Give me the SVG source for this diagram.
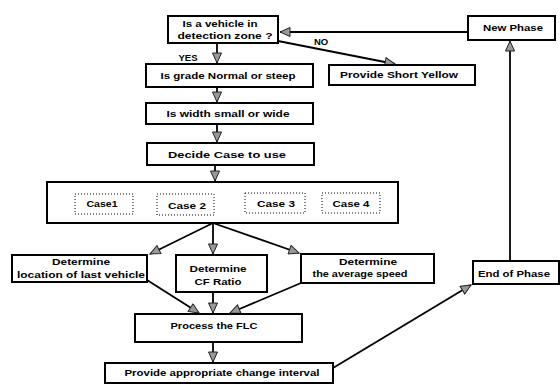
<svg xmlns="http://www.w3.org/2000/svg" width="560" height="385" viewBox="0 0 560 385">
<style>
.box{fill:#fff;stroke:#000;stroke-width:2}
.dot{fill:none;stroke:#000;stroke-width:1;stroke-dasharray:1 2}
.c{fill:none;stroke:#000;stroke-width:1.8}
text{font-family:"Liberation Sans",Arial,sans-serif;font-weight:bold;font-size:9.5px;fill:#000;text-anchor:middle}
</style>
<defs>
<marker id="ah" markerUnits="userSpaceOnUse" markerWidth="12" markerHeight="10" viewBox="0 0 12 10" refX="11" refY="5" orient="auto">
<path d="M1,0.5 L11,5 L1,9.5 Z" fill="#999" stroke="#222" stroke-width="1"/>
</marker>
</defs>
<rect width="560" height="385" fill="#fff"/>
<g id="connectors">
<line class="c" x1="217" y1="43" x2="217" y2="63" marker-end="url(#ah)"/>
<line class="c" x1="217" y1="87" x2="217" y2="102" marker-end="url(#ah)"/>
<line class="c" x1="217" y1="124" x2="217" y2="142" marker-end="url(#ah)"/>
<line class="c" x1="215" y1="165" x2="215" y2="181" marker-end="url(#ah)"/>
<line class="c" x1="468" y1="32" x2="280" y2="32" marker-end="url(#ah)"/>
<line class="c" x1="278" y1="41" x2="395" y2="64" marker-end="url(#ah)"/>
<line class="c" x1="213" y1="223" x2="150" y2="254" marker-end="url(#ah)"/>
<line class="c" x1="213" y1="223" x2="213" y2="254" marker-end="url(#ah)"/>
<line class="c" x1="213" y1="223" x2="299" y2="253" marker-end="url(#ah)"/>
<line class="c" x1="147" y1="280" x2="199" y2="313" marker-end="url(#ah)"/>
<line class="c" x1="213" y1="292" x2="213" y2="313" marker-end="url(#ah)"/>
<line class="c" x1="301" y1="283" x2="230" y2="313" marker-end="url(#ah)"/>
<line class="c" x1="213" y1="342" x2="213" y2="362" marker-end="url(#ah)"/>
<line class="c" x1="333" y1="368" x2="471" y2="285" marker-end="url(#ah)"/>
<line class="c" x1="510" y1="261" x2="510" y2="41" marker-end="url(#ah)"/>
<text x="321" y="45">NO</text>
<text x="188" y="61">YES</text>
</g>
<g id="n-detect">
<rect class="box" x="168" y="16" width="110" height="27"/>
<text x="220" y="27" textLength="75" lengthAdjust="spacingAndGlyphs">Is a vehicle in</text>
<text x="225" y="39" textLength="95" lengthAdjust="spacingAndGlyphs">detection zone ?</text>
</g>
<g id="n-newphase">
<rect class="box" x="468" y="16" width="87" height="24"/>
<text x="513" y="31" textLength="60" lengthAdjust="spacingAndGlyphs">New Phase</text>
</g>
<g id="n-short">
<rect class="box" x="329" y="65" width="146" height="20"/>
<text x="399" y="78" textLength="118" lengthAdjust="spacingAndGlyphs">Provide Short Yellow</text>
</g>
<g id="n-grade">
<rect class="box" x="146" y="64" width="167" height="23"/>
<text x="228" y="79" textLength="135" lengthAdjust="spacingAndGlyphs">Is grade Normal or steep</text>
</g>
<g id="n-width">
<rect class="box" x="146" y="103" width="167" height="21"/>
<text x="228" y="117" textLength="123" lengthAdjust="spacingAndGlyphs">Is width small or wide</text>
</g>
<g id="n-decide">
<rect class="box" x="147" y="143" width="167" height="22"/>
<text x="227" y="158" textLength="118" lengthAdjust="spacingAndGlyphs">Decide Case to use</text>
</g>
<g id="n-cases">
<rect class="box" x="47" y="182" width="351" height="41"/>
<rect class="dot" x="75" y="194" width="58" height="20"/>
<rect class="dot" x="157" y="194" width="57" height="21"/>
<rect class="dot" x="245" y="193" width="60" height="20"/>
<rect class="dot" x="322" y="193" width="58" height="20"/>
<text x="102" y="207" textLength="31" lengthAdjust="spacingAndGlyphs">Case1</text>
<text x="187" y="209" textLength="38" lengthAdjust="spacingAndGlyphs">Case 2</text>
<text x="276" y="207" textLength="38" lengthAdjust="spacingAndGlyphs">Case 3</text>
<text x="351" y="207" textLength="37" lengthAdjust="spacingAndGlyphs">Case 4</text>
</g>
<g id="n-location">
<rect class="box" x="12" y="255" width="135" height="27"/>
<text x="81" y="265" textLength="58" lengthAdjust="spacingAndGlyphs">Determine</text>
<text x="81" y="278" textLength="128" lengthAdjust="spacingAndGlyphs">location of last vehicle</text>
</g>
<g id="n-cf">
<rect class="box" x="176" y="255" width="91" height="37"/>
<text x="218" y="272" textLength="57" lengthAdjust="spacingAndGlyphs">Determine</text>
<text x="218" y="285" textLength="47" lengthAdjust="spacingAndGlyphs">CF Ratio</text>
</g>
<g id="n-speed">
<rect class="box" x="301" y="254" width="133" height="29"/>
<text x="368" y="265" textLength="58" lengthAdjust="spacingAndGlyphs">Determine</text>
<text x="360" y="277" textLength="95" lengthAdjust="spacingAndGlyphs">the average speed</text>
</g>
<g id="n-flc">
<rect class="box" x="135" y="314" width="167" height="28"/>
<text x="214" y="329" textLength="87" lengthAdjust="spacingAndGlyphs">Process the FLC</text>
</g>
<g id="n-interval">
<rect class="box" x="105" y="363" width="228" height="20"/>
<text x="222" y="376" textLength="195" lengthAdjust="spacingAndGlyphs">Provide appropriate change interval</text>
</g>
<g id="n-end">
<rect class="box" x="473" y="261" width="86" height="23"/>
<text x="514" y="277" textLength="72" lengthAdjust="spacingAndGlyphs">End of Phase</text>
</g>
</svg>
